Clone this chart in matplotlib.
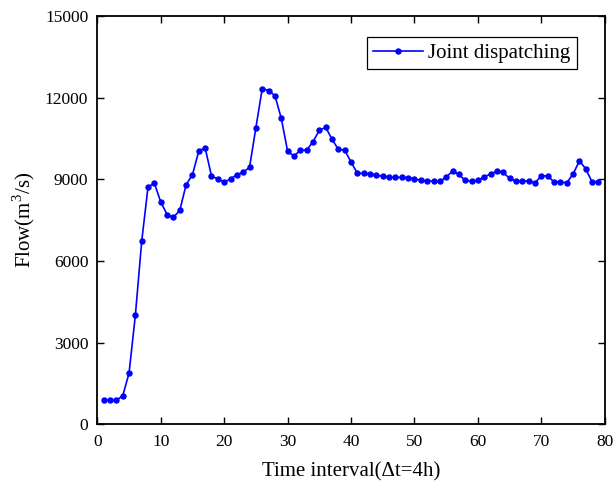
import matplotlib
matplotlib.use("Agg")
import matplotlib.pyplot as plt
import numpy as np

x = list(range(1, 80))
flow = [890, 890, 890, 1040, 1880, 4010, 6730, 8730, 8850, 8170,
        7700, 7600, 7860, 8800, 9170, 10040, 10150, 9120, 9010, 8900,
        9010, 9170, 9260, 9440, 10900, 12330, 12260, 12070, 11240, 10030,
        9850, 10070, 10070, 10380, 10800, 10910, 10470, 10100, 10070, 9630,
        9220, 9220, 9200, 9150, 9110, 9080, 9070, 9070, 9060, 9010,
        8960, 8940, 8930, 8920, 9080, 9300, 9180, 8960, 8920, 8970,
        9080, 9200, 9290, 9250, 9030, 8920, 8940, 8940, 8870, 9120,
        9130, 8900, 8900, 8870, 9190, 9680, 9380, 8900, 8900]

xticks = [0, 10, 20, 30, 40, 50, 60, 70, 80]
yticks = [0, 3000, 6000, 9000, 12000, 15000]

plt.rcParams['font.family'] = ['Liberation Serif', 'DejaVu Serif']
plt.rcParams['mathtext.fontset'] = 'custom'
plt.rcParams['mathtext.rm'] = 'Liberation Serif'

fig = plt.figure(figsize=(6.14, 4.83), dpi=100)
ax = fig.add_axes([0.1585, 0.1215, 0.8265, 0.8455])
ax.plot(x, flow, color='#0000ff', lw=1.2, marker='o', ms=3.6, label='Joint dispatching')
ax.set_xlim(0, 80)
ax.set_ylim(0, 15000)
ax.set_xticks(xticks)
ax.set_yticks(yticks)
ax.tick_params(direction='in', top=True, right=True, labelsize=12.5, length=5, width=1)
ax.tick_params(axis='x', pad=7)
ax.tick_params(axis='y', pad=6.5)
for s in ax.spines.values():
    s.set_linewidth(1.3)
ax.set_xlabel('Time interval(\u0394t=4h)', fontsize=15, labelpad=8.5)
ax.set_ylabel('Flow(m$^3$/s)', fontsize=15, labelpad=5.5)
leg = ax.legend(loc='upper right', bbox_to_anchor=(0.945, 0.948), fontsize=15,
                fancybox=False, framealpha=1, edgecolor='black', handlelength=2.4,
                borderpad=0.3, handletextpad=0.25, borderaxespad=0)
leg.get_frame().set_linewidth(0.9)
fig.savefig('out.png', dpi=100)
